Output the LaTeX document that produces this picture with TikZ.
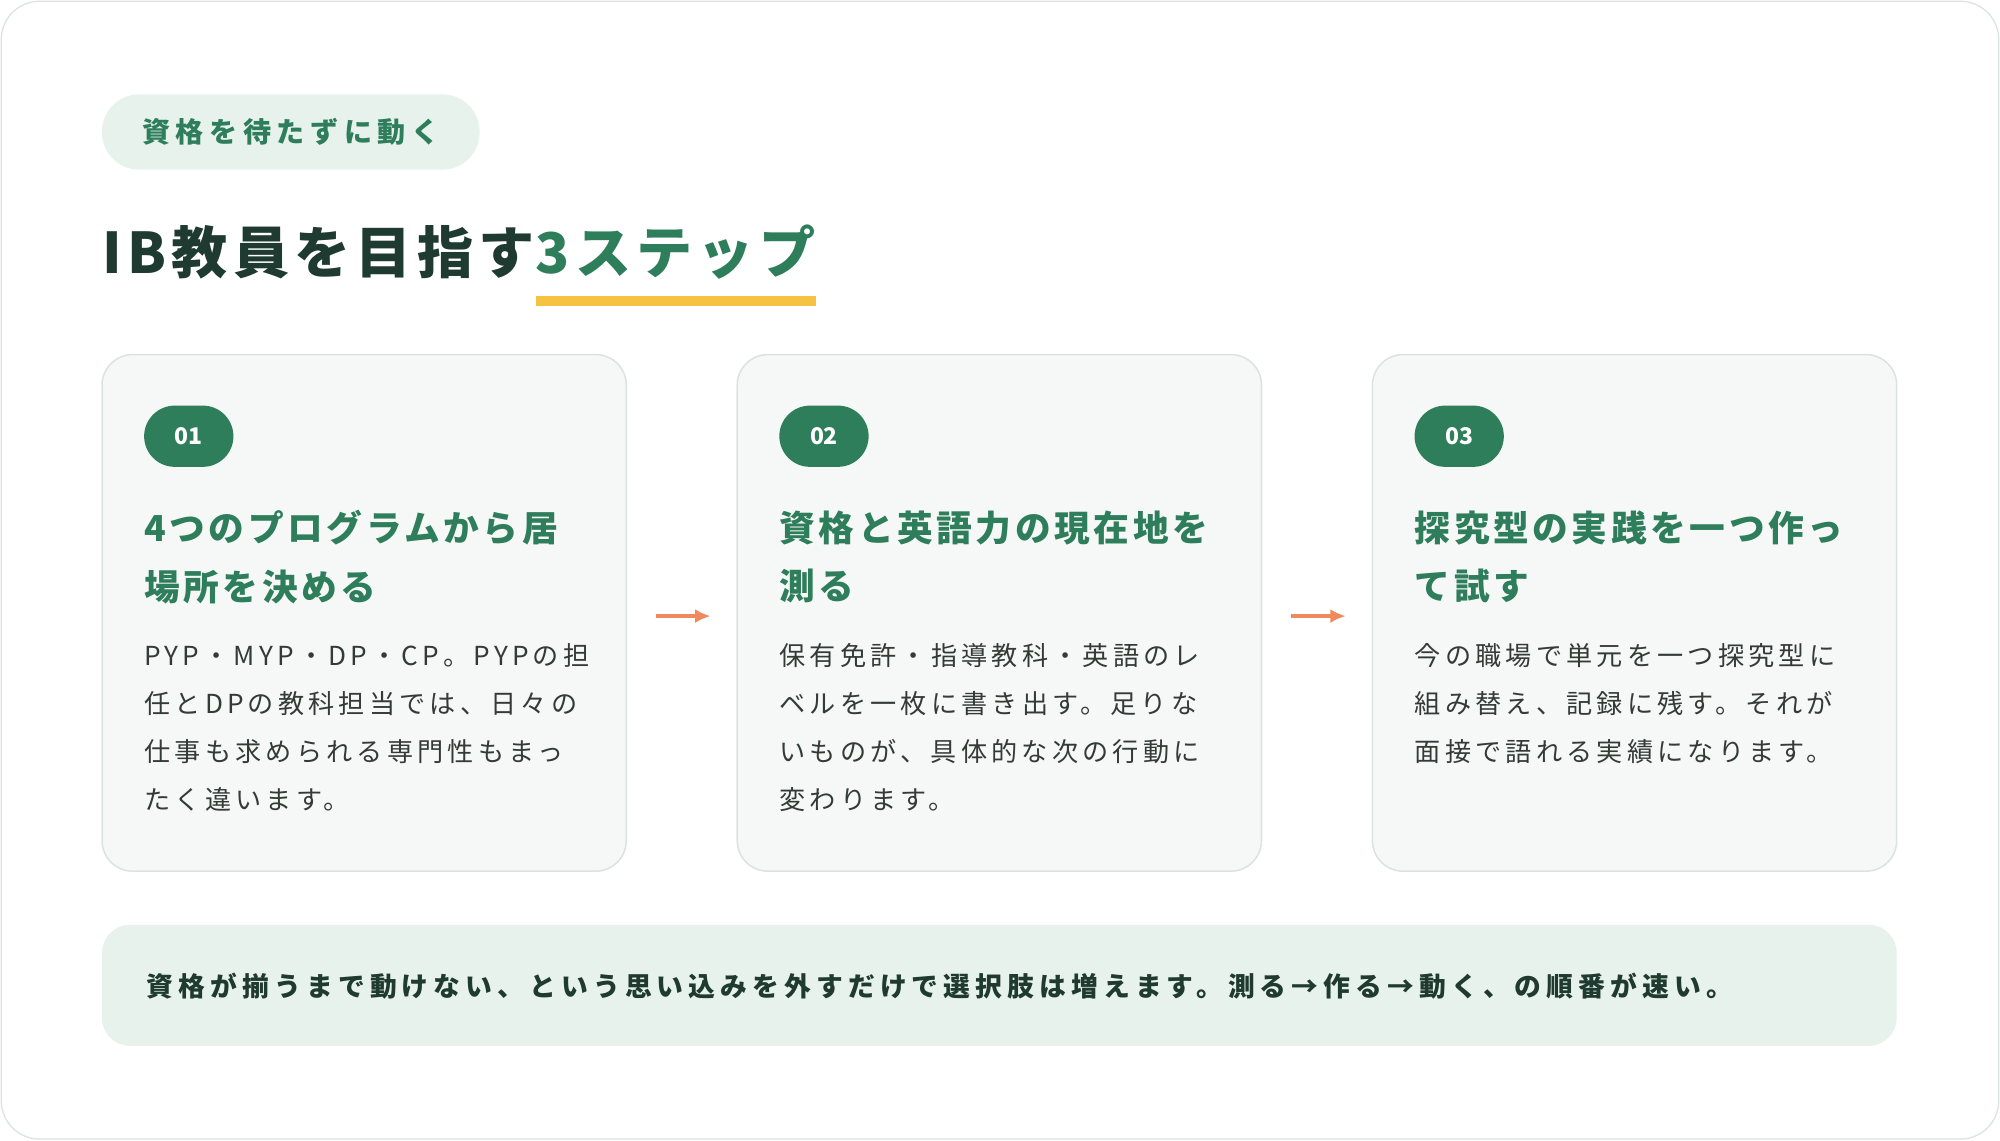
\documentclass[tikz,border=0pt]{standalone}
\usepackage{fontspec}
\usetikzlibrary{arrows.meta}
\setmainfont{Noto Sans CJK JP}
\definecolor{gr}{HTML}{2E7D5B}
\definecolor{lg}{HTML}{E8F2EC}
\definecolor{dk}{HTML}{1F3A30}
\definecolor{tx}{HTML}{333B37}
\definecolor{cardf}{HTML}{F6F8F7}
\definecolor{cardb}{HTML}{DCE3DF}
\definecolor{yel}{HTML}{F5C242}
\definecolor{org}{HTML}{F08A5D}
\newcommand{\ls}[1]{\addfontfeature{LetterSpace=#1}}
\begin{document}
\begin{tikzpicture}[x=1pt,y=-1pt,
 card/.style={draw=cardb,fill=cardf,rounded corners=24pt,line width=1.2pt},
 badge/.style={fill=gr,rounded corners=24pt,minimum width=70pt,minimum height=48pt,text=white,font=\fontsize{18}{20}\selectfont\bfseries},
 ctitle/.style={anchor=north west,align=left,text=gr,font=\fontsize{28}{46}\selectfont\bfseries\ls{10},inner sep=0},
 body/.style={anchor=north west,align=left,text=tx,font=\fontsize{20.5}{37.7}\selectfont\ls{16},inner sep=0},
 arr/.style={-{Latex[length=12pt,width=11pt]},draw=org,line width=3.5pt}]
\useasboundingbox (0,0) rectangle (1568,894);
\draw[draw=cardb,fill=white,rounded corners=30pt,line width=1pt] (1,1) rectangle (1567,893);
\node[fill=lg,rounded corners=29pt,minimum width=296pt,minimum height=59pt,text=gr,font=\fontsize{22}{24}\selectfont\bfseries\ls{20}] (pill) at (228,103.5) {資格を待たずに動く};
\node[anchor=west,inner sep=0,text=dk,font=\fontsize{44}{48}\selectfont\bfseries\ls{9.5}] (t1) at (80,198) {IB教員を目指す};
\node[anchor=west,inner sep=0,text=gr,font=\fontsize{44}{48}\selectfont\bfseries\ls{9.5}] (t2) at (t1.east) {3ステップ};
\fill[yel] (420,232) rectangle (640,240);
\foreach \i/\x/\n in {1/80/01,2/578/02,3/1076/03}{
 \draw[card] (\x,278) rectangle ++(411,405);
 \node[badge] (b\i) at (\x+68,342) {\n};
}
\node[ctitle] (h1) at (113,400) {4つのプログラムから居\\場所を決める};
\node[ctitle] (h2) at (611,400) {資格と英語力の現在地を\\測る};
\node[ctitle] (h3) at (1109,400) {探究型の実践を一つ作っ\\て試す};
\node[body] (p1) at (113,504) {PYP・MYP・DP・CP。PYPの担\\任とDPの教科担当では、日々の\\仕事も求められる専門性もまっ\\たく違います。};
\node[body] (p2) at (611,504) {保有免許・指導教科・英語のレ\\ベルを一枚に書き出す。足りな\\いものが、具体的な次の行動に\\変わります。};
\node[body] (p3) at (1109,504) {今の職場で単元を一つ探究型に\\組み替え、記録に残す。それが\\面接で語れる実績になります。};
\coordinate (a1s) at (514,483); \coordinate (a1e) at (557,483);
\coordinate (a2s) at (1012,483); \coordinate (a2e) at (1055,483);
\draw[arr] (a1s) -- (a1e);
\draw[arr] (a2s) -- (a2e);
\fill[lg,rounded corners=22pt] (80,725) rectangle (1487,820);
\node[anchor=west,inner sep=0,text=dk,font=\fontsize{21}{24}\selectfont\bfseries\ls{19}] (foot) at (115,773) {資格が揃うまで動けない、という思い込みを外すだけで選択肢は増えます。測る→作る→動く、の順番が速い。};
\end{tikzpicture}
\end{document}
